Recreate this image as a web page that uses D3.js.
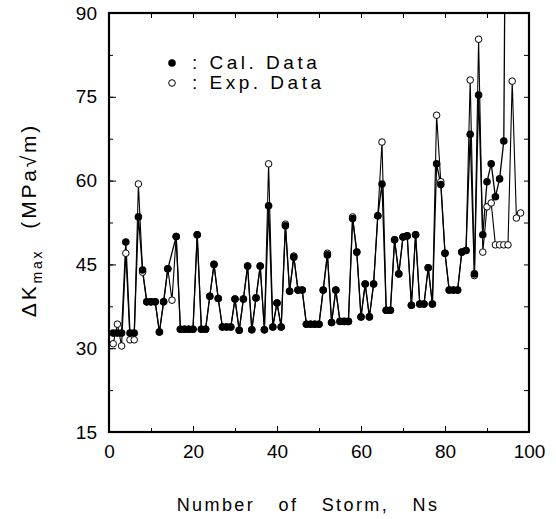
<!DOCTYPE html>
<html>
<head>
<meta charset="utf-8">
<script src="https://cdn.jsdelivr.net/npm/d3@7"></script>
<style>
  body { margin: 0; background: #fff; }
  svg { display: block; }
  .tick text { font-family: "Liberation Sans", Arial, sans-serif; }
</style>
</head>
<body>
<svg id="chart" width="556" height="519"></svg>
<script>
// storm numbers
var storms = d3.range(1, 99);

// calculated dK_max (null where no calculated point is plotted)
var calData = [
  32.7, 32.7, 32.7, 49.0, 32.7, 32.7, 53.5, 44.0, 38.3, 38.3,
  38.3, 32.9, 38.3, 44.2, null, 50.0, 33.4, 33.4, 33.4, 33.4,
  50.3, 33.4, 33.4, 39.3, 45.0, 38.9, 33.8, 33.8, 33.8, 38.8,
  33.2, 38.8, 44.7, 33.3, 39.0, 44.7, 33.3, 55.5, 33.8, 38.1,
  33.8, 51.9, 40.2, 46.3, 40.4, 40.4, 34.3, 34.3, 34.3, 34.3,
  40.4, 46.7, 34.6, 40.4, 34.8, 34.8, 34.8, 53.2, 47.2, 35.6,
  41.5, 35.6, 41.5, 53.7, 59.4, 36.8, 36.8, 49.4, 43.3, 49.9,
  50.1, 37.7, 50.3, 37.9, 37.9, 44.4, 37.9, 63.0, 59.3, 47.0,
  40.4, 40.4, 40.4, 47.2, 47.5, 68.3, 43.3, 75.3, 50.3, 59.8,
  63.0, 57.1, 60.3, 67.1, 180, null, null, null
];

// experimental dK_max
var expData = [
  30.8, 34.3, 30.4, 47.0, 31.5, 31.5, 59.4, 43.6, 38.3, 38.3,
  38.3, 32.9, 38.3, 44.2, 38.6, 50.0, 33.4, 33.4, 33.4, 33.4,
  50.3, 33.4, 33.4, 39.3, 45.0, 38.9, 33.8, 33.8, 33.8, 38.8,
  33.2, 38.8, 44.7, 33.3, 39.0, 44.7, 33.3, 63.0, 33.8, 38.1,
  33.8, 52.2, 40.2, 46.5, 40.4, 40.4, 34.3, 34.3, 34.3, 34.3,
  40.4, 47.0, 34.6, 40.4, 34.8, 34.8, 34.8, 53.5, 47.2, 35.6,
  41.5, 35.6, 41.5, 53.7, 66.9, 36.8, 36.8, 49.4, 43.3, 49.9,
  50.1, 37.7, 50.3, 37.9, 37.9, 44.4, 37.9, 71.7, 59.8, 47.0,
  40.4, 40.4, 40.4, 47.2, 47.5, 78.0, 43.0, 85.3, 47.2, 55.3,
  56.0, 48.5, 48.5, 48.5, 48.5, 77.8, 53.3, 54.2
];

var xTicks = [0, 20, 40, 60, 80, 100];
var yTicks = [15, 30, 45, 60, 75, 90];

var margin = {top: 13, right: 27, bottom: 87, left: 109};
var width = 556 - margin.left - margin.right;
var height = 519 - margin.top - margin.bottom;

var svg = d3.select("#chart");
var g = svg.append("g").attr("transform", "translate(" + margin.left + "," + margin.top + ")");

var x = d3.scaleLinear().domain([0, 100]).range([0, width]);
var y = d3.scaleLinear().domain([15, 90]).range([height, 0]);

svg.append("defs").append("clipPath").attr("id", "plotClip")
  .append("rect").attr("width", width).attr("height", height);

var calPts = storms.map((n, i) => ({n: n, v: calData[i]})).filter(d => d.v != null);
var expPts = storms.map((n, i) => ({n: n, v: expData[i]})).filter(d => d.v != null);

var line = d3.line().x(d => x(d.n)).y(d => y(d.v));

var plot = g.append("g").attr("clip-path", "url(#plotClip)");

plot.append("path").datum(expPts)
  .attr("d", line).attr("fill", "none").attr("stroke", "#000").attr("stroke-width", 1.1);
plot.append("path").datum(calPts)
  .attr("d", line).attr("fill", "none").attr("stroke", "#000").attr("stroke-width", 1.3);

plot.selectAll("circle.exp").data(expPts).enter().append("circle")
  .attr("class", "exp")
  .attr("cx", d => x(d.n)).attr("cy", d => y(d.v)).attr("r", 3.3)
  .attr("fill", "#fff").attr("stroke", "#000").attr("stroke-width", 1);

plot.selectAll("circle.cal").data(calPts).enter().append("circle")
  .attr("class", "cal")
  .attr("cx", d => x(d.n)).attr("cy", d => y(d.v)).attr("r", 3.8)
  .attr("fill", "#000");

// axes, ticks inward
var yMinor = d3.range(15, 90.1, 7.5);
var xMinor = d3.range(0, 100.1, 10);

g.append("g").call(d3.axisLeft(y).tickValues(yMinor).tickSize(-4).tickFormat(""));
g.append("g").call(d3.axisLeft(y).tickValues(yTicks).tickSize(-7).tickPadding(12).tickFormat(d3.format("d")));
g.append("g").attr("transform", "translate(" + width + ",0)")
  .call(d3.axisRight(y).tickValues(yMinor).tickSize(-5).tickFormat(""));
g.append("g").attr("transform", "translate(0," + height + ")")
  .call(d3.axisBottom(x).tickValues(xMinor).tickSize(-4).tickFormat(""));
g.append("g").attr("transform", "translate(0," + height + ")")
  .call(d3.axisBottom(x).tickValues(xTicks).tickSize(-6).tickPadding(13).tickFormat(d3.format("d")));
g.append("g").call(d3.axisTop(x).tickValues(xMinor).tickSize(-5).tickFormat(""));

g.selectAll(".domain").remove();
g.selectAll(".tick line").attr("stroke", "#000").attr("stroke-width", 1);
g.selectAll(".tick text").attr("font-size", 19).attr("fill", "#000");

g.append("rect").attr("width", width).attr("height", height)
  .attr("fill", "none").attr("stroke", "#000").attr("stroke-width", 2.2);

// legend
var legend = g.append("g").attr("font-family", "'Liberation Sans', Arial, sans-serif")
  .attr("font-size", 19).attr("fill", "#000");
legend.append("circle").attr("cx", 63).attr("cy", 50).attr("r", 3.8).attr("fill", "#000");
legend.append("text").attr("x", 83).attr("y", 56).attr("letter-spacing", 3.5).text(": Cal. Data");
legend.append("circle").attr("cx", 63).attr("cy", 70).attr("r", 3.3)
  .attr("fill", "#fff").attr("stroke", "#000");
legend.append("text").attr("x", 83).attr("y", 76).attr("letter-spacing", 3.5).text(": Exp. Data");

// axis titles
svg.append("text")
  .attr("x", 308).attr("y", 511)
  .attr("text-anchor", "middle")
  .attr("font-family", "'Liberation Sans', Arial, sans-serif")
  .attr("font-size", 18).attr("fill", "#000")
  .attr("letter-spacing", 2.4).attr("word-spacing", 16)
  .text("Number of Storm, Ns");

var yTitle = svg.append("text")
  .attr("transform", "translate(36,220) rotate(-90)")
  .attr("text-anchor", "middle")
  .attr("font-family", "'Liberation Sans', Arial, sans-serif")
  .attr("font-size", 21).attr("fill", "#000")
  .attr("letter-spacing", 2.8);
yTitle.append("tspan").text("ΔK");
yTitle.append("tspan").attr("font-size", 14).attr("dy", 6).text("max");
yTitle.append("tspan").attr("dy", -6).attr("dx", 20).text("(MPa√m)");
</script>
</body>
</html>
